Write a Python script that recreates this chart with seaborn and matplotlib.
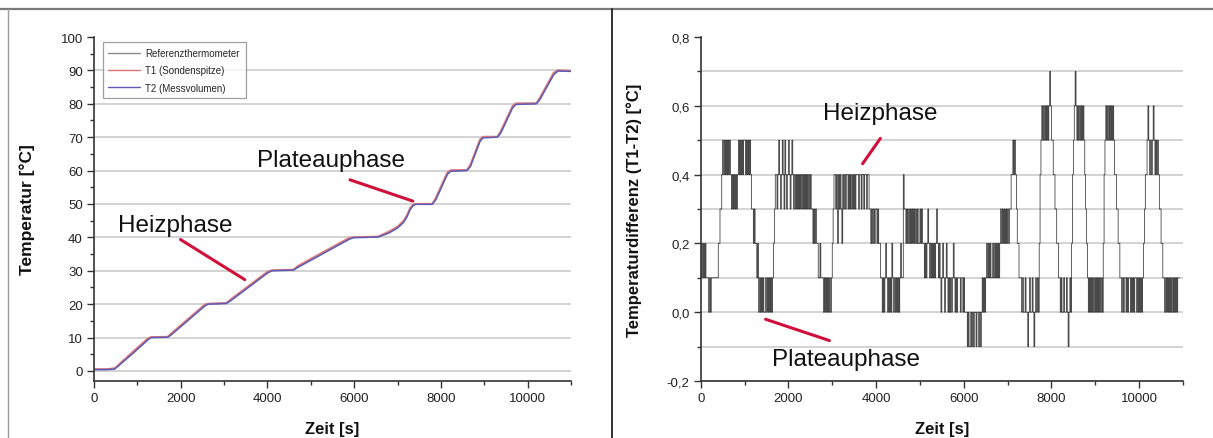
import numpy as np
import pandas as pd
import matplotlib
matplotlib.use("Agg")
import matplotlib.pyplot as plt
import seaborn as sns
from matplotlib.ticker import MultipleLocator, FuncFormatter, FixedLocator
from matplotlib.lines import Line2D

# ---------------- data ----------------
# left chart: temperature of the three sensors over time
zeit_s = [0, 300, 480, 900, 1250, 1320, 1700, 1780, 2550, 2630, 3050, 3150,
          4000, 4100, 4600, 4700, 5880, 5980, 6550, 6800, 7000, 7140, 7220,
          7290, 7360, 7420, 7800, 7880, 8150, 8230, 8600, 8680, 8900, 8970,
          9300, 9380, 9650, 9730, 10200, 10280, 10600, 10700, 11000]
referenz = [0.5, 0.5, 0.7, 5.5, 9.6, 10.1, 10.2, 11.0, 19.6, 20.1, 20.3, 21.2,
            29.5, 30.1, 30.3, 31.2, 39.6, 40.0, 40.2, 41.5, 43.0, 44.8, 46.5,
            48.6, 49.7, 50.0, 50.0, 51.5, 59.2, 60.0, 60.1, 61.5, 69.0, 70.0,
            70.1, 71.5, 79.0, 80.0, 80.1, 81.5, 89.0, 90.0, 89.8]
t1_sondenspitze = [0.6, 0.6, 0.9, 5.9, 9.9, 10.2, 10.3, 11.3, 19.9, 20.2, 20.4, 21.5,
                   29.8, 30.2, 30.4, 31.5, 39.9, 40.1, 40.3, 41.8, 43.3, 45.1, 46.8,
                   48.9, 49.9, 50.1, 50.1, 51.9, 59.6, 60.2, 60.2, 61.9, 69.4, 70.2,
                   70.2, 71.9, 79.4, 80.2, 80.2, 81.9, 89.4, 90.1, 89.9]
t2_messvolumen = [0.4, 0.4, 0.6, 5.3, 9.4, 10.0, 10.1, 10.8, 19.4, 20.0, 20.2, 21.0,
                  29.3, 30.0, 30.2, 31.0, 39.4, 39.9, 40.1, 41.3, 42.8, 44.5, 46.2,
                  48.3, 49.5, 49.9, 49.9, 51.2, 58.9, 59.8, 60.0, 61.2, 68.7, 69.8,
                  70.0, 71.2, 78.7, 79.8, 80.0, 81.2, 88.7, 89.8, 89.7]
serien_namen = ["Referenzthermometer", "T1 (Sondenspitze)", "T2 (Messvolumen)"]
serien_farben = ["#8a8a8a", "#e07878", "#5c5cb8"]

# right chart: T1-T2 difference, one code per 20 s sample, value = (code - 1) / 10 degC
diff_abtastung_s = 20
diff_stufen = [
    "2323232221212222222233445" "6565656565454545456565656",                     # 0 - 1000 s
    "65656565" "44343323" "12121211212121212" "345" "54565456546545",            # 1000 - 2000 s
    "654565454545454545454545454" "434343322322212" "12121212",                  # 2000 - 3000 s
    "345" "54535454354545" "54545454545" "554554554554554" "4343434",            # 3000 - 4000 s
    "434332" "2121232121213212121212322" "54" "43434343434343433",               # 4000 - 5000 s
    "4343" "3232343232323234323" "212321232121" "212321212" "221221",            # 5000 - 6000 s
    "211" "101001010110110101" "2121" "2323232232323232" "343434343",            # 6000 - 7000 s
    "4344" "55656543322" "212112110121121012121" "356" "76767676787",            # 7000 - 8000 s
    "6655443322" "1211211210121" "356" "78767676767" "65432" "12121212",         # 8000 - 9000 s
    "121212121" "356" "7676767676" "55443322" "12122121221212122121",            # 9000 - 10000 s
    "2121" "2345" "567656567656565" "443322" "12121212121212122" "2",            # 10000 - 10920 s
]

x_ticks = [0, 2000, 4000, 6000, 8000, 10000]
y_ticks_links = [0, 10, 20, 30, 40, 50, 60, 70, 80, 90, 100]
y_ticks_rechts = [-0.2, 0.0, 0.2, 0.4, 0.6, 0.8]

# ---------------- style ----------------
sns.set_style("white")
plt.rcParams["font.family"] = ["Liberation Sans", "DejaVu Sans"]

W, H = 1213, 439
fig = plt.figure(figsize=(W / 100, H / 100), dpi=100)
ax1 = fig.add_axes([94 / W, 1 - 382 / H, (571 - 94) / W, 344 / H])
ax2 = fig.add_axes([700.7 / W, 1 - 382 / H, (1183 - 700.7) / W, 344 / H])

# ---------------- left chart ----------------
df = pd.DataFrame({
    "Zeit": zeit_s * 3,
    "Temperatur": referenz + t1_sondenspitze + t2_messvolumen,
    "Serie": [n for n in serien_namen for _ in zeit_s],
})
sns.lineplot(data=df, x="Zeit", y="Temperatur", hue="Serie", hue_order=serien_namen,
             palette=dict(zip(serien_namen, serien_farben)), estimator=None,
             sort=False, lw=1.1, ax=ax1)
ax1.set_xlim(0, 11000)
ax1.set_ylim(-3, 100)

# ---------------- right chart ----------------
codes = [int(c) for s in diff_stufen for c in s]
diff = [(c - 1) / 10 for c in codes]
zeit_diff = [i * diff_abtastung_s for i in range(len(codes))]
sns.lineplot(x=zeit_diff, y=diff, estimator=None, sort=False, color="#222222",
             lw=0.5, drawstyle="steps-post", ax=ax2)
ax2.set_xlim(0, 11000)
ax2.set_ylim(-0.2, 0.8)

# ---------------- axes cosmetics ----------------
axis_col = "#333333"
for ax in (ax1, ax2):
    for s in ("top", "right"):
        ax.spines[s].set_visible(False)
    for s in ("left", "bottom"):
        ax.spines[s].set_color(axis_col)
        ax.spines[s].set_linewidth(1.2)
    ax.xaxis.set_major_locator(FixedLocator(x_ticks))
    ax.xaxis.set_minor_locator(MultipleLocator(1000))
    ax.tick_params(which="both", bottom=True, left=True, direction="out",
                   color=axis_col, width=1)
    ax.tick_params(which="major", length=5, labelsize=9.5, labelcolor="#222222", pad=3)
    ax.tick_params(which="minor", length=3)
    ax.set_xlabel("Zeit [s]", fontsize=12, fontweight="bold", color="#111111")
    ax.xaxis.set_label_coords(0.5, -0.115)
    ax.set_axisbelow(True)

ax1.yaxis.set_major_locator(FixedLocator(y_ticks_links))
ax1.yaxis.set_minor_locator(MultipleLocator(5))
ax1.yaxis.grid(True, which="major", color="#c8c8c8", lw=1.1)
ax1.xaxis.grid(False)
ax1.set_ylabel("Temperatur [°C]", fontsize=12.5, fontweight="bold", color="#111111")
ax1.yaxis.set_label_coords(-0.124, 0.5)

ax2.yaxis.set_major_locator(FixedLocator(y_ticks_rechts))
ax2.yaxis.set_minor_locator(MultipleLocator(0.1))
ax2.yaxis.set_major_formatter(FuncFormatter(lambda v, p: f"{v:.1f}".replace(".", ",").replace("−", "-")))
ax2.yaxis.grid(True, which="both", color="#c8c8c8", lw=1.1)
ax2.xaxis.grid(False)
ax2.set_ylabel("Temperaturdifferenz (T1-T2) [°C]", fontsize=12, fontweight="bold", color="#111111")
ax2.yaxis.set_label_coords(-0.122, 0.5)

# no grid line along the top edge of either chart
fig.canvas.draw()
for ax in (ax1, ax2):
    ax.yaxis.get_major_ticks()[-1].gridline.set_visible(False)

# legend
handles, labels = ax1.get_legend_handles_labels()
leg = ax1.legend(handles, labels, loc="upper left", bbox_to_anchor=(0.018, 0.985),
                 fontsize=7, frameon=True, fancybox=False, edgecolor="#888888",
                 handlelength=3.2, handletextpad=0.6, labelspacing=0.75,
                 borderpad=0.6, borderaxespad=0)
leg.get_frame().set_linewidth(0.9)
for lh in leg.get_lines():
    lh.set_linewidth(1.0)

# annotations
rot = "#d0103a"
txt_kw = dict(fontsize=17.5, color="#111111", ha="center", va="center")
ax1.annotate("", xy=(3533, 26.9), xytext=(1940, 39.8),
             arrowprops=dict(arrowstyle="-", color=rot, lw=2.2))
ax1.text(1871, 43.7, "Heizphase", **txt_kw)
ax1.annotate("", xy=(7413, 50.6), xytext=(5843, 57.5),
             arrowprops=dict(arrowstyle="-", color=rot, lw=2.2))
ax1.text(5473, 63.2, "Plateauphase", **txt_kw)

ax2.annotate("", xy=(3656, 0.425), xytext=(4135, 0.512),
             arrowprops=dict(arrowstyle="-", color=rot, lw=2.2))
ax2.text(4091, 0.58, "Heizphase", **txt_kw)
ax2.annotate("", xy=(2996, -0.085), xytext=(1421, -0.018),
             arrowprops=dict(arrowstyle="-", color=rot, lw=2.2))
ax2.text(3304, -0.135, "Plateauphase", **txt_kw)

# frame lines of the figure panels
top_y = 1 - 10 / H
fig.add_artist(Line2D([0, 1], [top_y, top_y], transform=fig.transFigure, color="#7a7a7a", lw=1.6))
fig.add_artist(Line2D([8 / W, 8 / W], [0, top_y], transform=fig.transFigure, color="#9a9a9a", lw=1.0))
fig.add_artist(Line2D([612 / W, 612 / W], [0, top_y], transform=fig.transFigure, color="#202020", lw=1.3))

fig.savefig("out.png", dpi=100)
